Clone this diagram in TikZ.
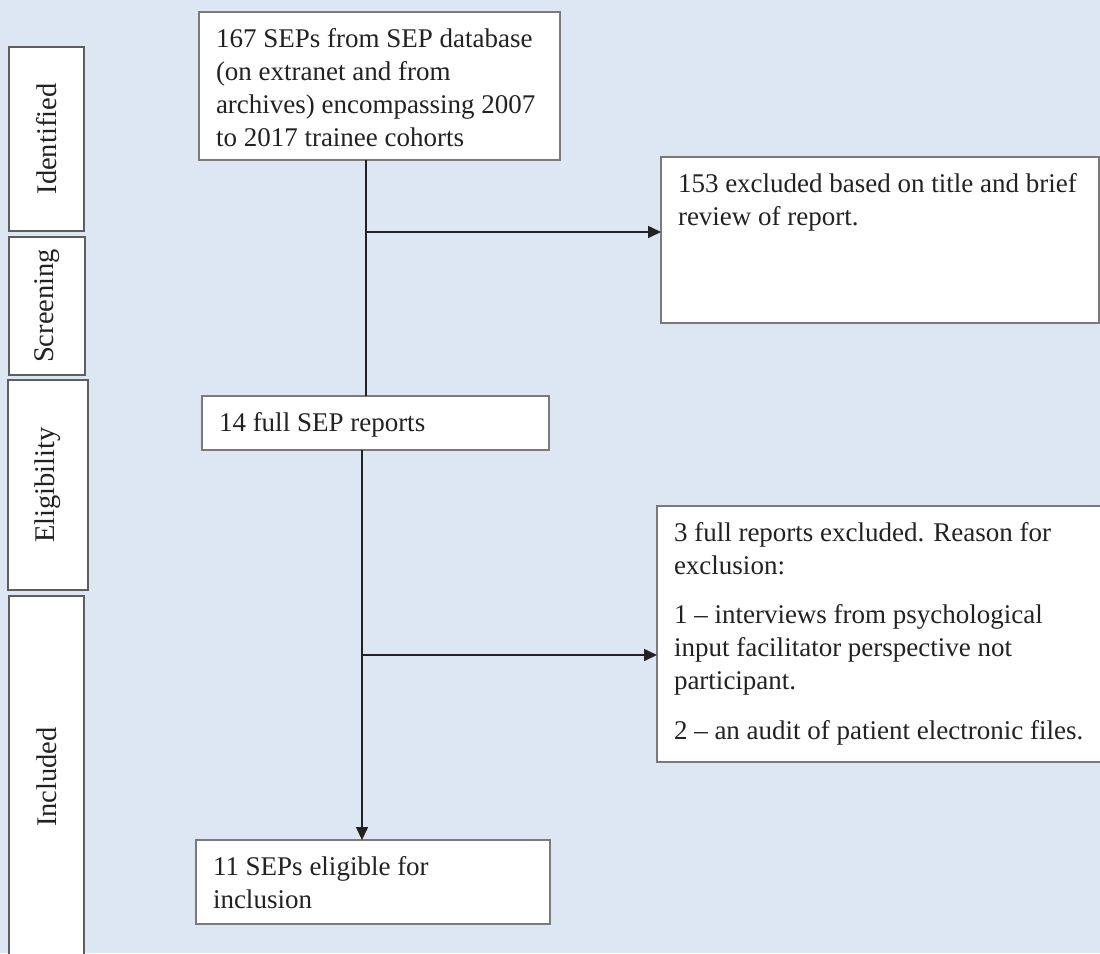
\documentclass[tikz,border=0pt]{standalone}
\usepackage{fontspec}
\setmainfont{Liberation Serif}
\usetikzlibrary{arrows.meta}
\definecolor{bg}{HTML}{DCE7F3}
\definecolor{bord}{HTML}{7A7A7A}
\definecolor{sideb}{HTML}{5E5E5E}
\definecolor{ink}{HTML}{222222}
\begin{document}
\begin{tikzpicture}[x=1pt,y=-1pt,
  box/.style={draw=bord, fill=white, line width=1.5pt, anchor=north west,
    inner xsep=17pt, inner ysep=12pt, outer sep=0pt,
    font=\fontsize{27}{33}\selectfont, text=ink},
  sidebox/.style={draw=sideb, fill=white, line width=1.9pt, inner sep=0pt, outer sep=0pt,
    rotate=90, font=\fontsize{28.5}{33}\selectfont, text=ink},
  conn/.style={line width=1.6pt, draw=ink},
  arr/.style={conn, -{Triangle[length=13pt,width=12pt]}}]
\useasboundingbox (0,0) rectangle (1100,953);
\fill[bg] (0,0) rectangle (1100,953);

% side stage labels
\node[sidebox, minimum width=184pt, minimum height=75pt] (sid) at (46.5,139) {Identified};
\node[sidebox, minimum width=138pt, minimum height=76pt] (sscr) at (47,306) {Screening};
\node[sidebox, minimum width=210pt, minimum height=80pt] (seli) at (48,485) {Eligibility};
\node[sidebox, minimum width=362pt, minimum height=75pt] (sinc) at (46.5,777) {Included};

% main boxes
\node[box] (b1) at (199,12) {\parbox[c][124pt][t]{327pt}{\raggedright\strut 167 SEPs from SEP database\\(on extranet and from\\archives) encompassing 2007\\to 2017 trainee cohorts}};
\node[box] (b2) at (661,157) {\parbox[c][142pt][t]{404pt}{\raggedright\strut 153 excluded based on title and brief\\review of report.}};
\node[box] (b3) at (202,396) {\parbox[c][30pt][t]{313pt}{\raggedright\strut 14 full SEP reports}};
\node[box] (b4) at (657,506) {\parbox[c][232pt][t]{436pt}{\raggedright\strut 3 full reports excluded. Reason for\\exclusion:\par\vspace{16pt}\strut 1 -- interviews from psychological\\input facilitator perspective not\\participant.\par\vspace{17pt}\strut 2 -- an audit of patient electronic files.}};
\node[box] (b5) at (196,840) {\parbox[c][60pt][t]{320pt}{\raggedright\strut 11 SEPs eligible for\\inclusion}};

% connectors
\coordinate (j1) at (366,232);
\coordinate (j2) at (362,655);
\draw[conn] (j1 |- b1.south) -- (j1 |- b3.north);
\draw[arr] (j1) -- (j1 -| b2.west);
\draw[arr] (j2 |- b3.south) -- (j2 |- b5.north);
\draw[arr] (j2) -- (j2 -| b4.west);
\end{tikzpicture}
\end{document}
